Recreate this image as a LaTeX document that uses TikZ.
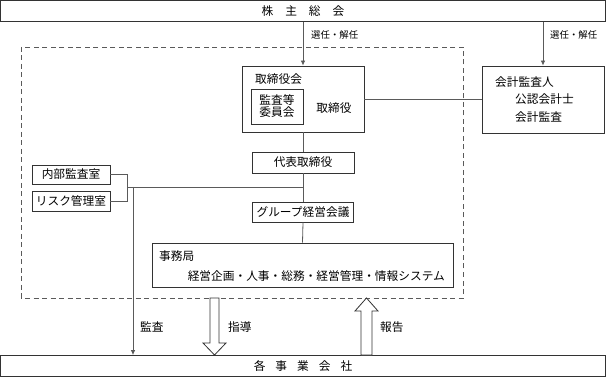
\documentclass[tikz,border=0pt]{standalone}
\usepackage{fontspec}
\setmainfont{Noto Sans CJK JP}
\usetikzlibrary{arrows.meta}
\definecolor{boxline}{HTML}{333333}
\definecolor{conline}{HTML}{5A5A5A}
\tikzset{
  box/.style={draw=boxline, line width=0.8pt, fill=white, inner sep=0pt, font=\fontsize{11.7}{13.5}\selectfont},
  lbl/.style={inner sep=0pt, font=\fontsize{11.7}{13.5}\selectfont},
  small/.style={inner sep=0pt, font=\fontsize{9.4}{11}\selectfont},
  con/.style={draw=conline, line width=0.8pt},
  arr/.style={con, -{Latex[length=5pt,width=4.5pt]}},
  hollow/.style={draw=boxline, line width=0.8pt, fill=white, line join=miter},
  dashbox/.style={draw=conline, line width=0.8pt, dash pattern=on 5pt off 3.5pt}
}
\begin{document}
\begin{tikzpicture}[x=1pt,y=-1pt]
\useasboundingbox (0,0) rectangle (606,377);
% dashed group
\draw[dashbox] (21,47) rectangle (463,298);
% top / bottom bars
\node[box, minimum width=605pt, minimum height=21.5pt] (top) at (303,11) {株\hspace{12pt}主\hspace{12pt}総\hspace{12pt}会};
\node[box, minimum width=605pt, minimum height=21pt] (bot) at (303,366) {各\hspace{10pt}事\hspace{10pt}業\hspace{10pt}会\hspace{10pt}社};
% board
\node[box, minimum width=122pt, minimum height=66pt] (tk) at (303,99) {};
\node[lbl, anchor=west] (tkl) at (255,79) {取締役会};
\node[box, minimum width=52pt, minimum height=35pt, align=center] (kan) at (277,106.5) {監査等\\[-1.5pt]委員会};
\node[lbl] (tky) at (334,108) {取締役};
% auditor
\node[box, minimum width=122pt, minimum height=67pt] (kai) at (543,99.5) {};
\node[lbl, anchor=west] (kai1) at (495,82) {会計監査人};
\node[lbl, anchor=west] (kai2) at (515,99.5) {公認会計士};
\node[lbl, anchor=west] (kai3) at (515,117) {会計監査};
% chain
\node[box, minimum width=102pt, minimum height=21pt] (dai) at (303,162.5) {代表取締役};
\node[box, minimum width=101pt, minimum height=20pt] (grp) at (303,212) {グループ経営会議};
\node[box, minimum width=301pt, minimum height=44pt] (jim) at (302.5,265) {};
\node[lbl, anchor=west] (jim1) at (159,256) {事務局};
\node[lbl, anchor=east] (jim2) at (445,276) {経営企画・人事・総務・経営管理・情報システム};
% side boxes
\node[box, minimum width=78pt, minimum height=19pt] (nai) at (71,174.5) {内部監査室};
\node[box, minimum width=78pt, minimum height=20pt] (ris) at (71,201) {リスク管理室};
% connectors
\draw[arr] (top.south -| tk.north) -- (tk.north);
\draw[arr] (top.south -| kai.north) -- (kai.north);
\node[small, anchor=west] (s1) at (311,35) {選任・解任};
\node[small, anchor=west] (s2) at (550,35) {選任・解任};
\draw[con] (tk.east) -- (kai.west |- tk.east);
\draw[con] (tk.south) -- (dai.north);
\draw[con] (dai.south) -- (grp.north);
\draw[con] (grp.south) -- (jim.north);
\coordinate (jn) at (127,187);
\draw[con] (nai.east) -- (nai.east -| jn) -- (ris.east -| jn) -- (ris.east);
\draw[con] (jn) -- (jn -| dai.south);
\coordinate (ka) at (133,187);
\draw[arr] (ka) -- (ka |- bot.north);
\node[lbl, anchor=west] (kl) at (140,327) {監査};
% hollow arrows
\draw[hollow] (210,298) -- (219,298) -- (219,343) -- (226,343) -- (214.5,355) -- (203,343) -- (210,343) -- cycle;
\node[lbl, anchor=west] (sl) at (228,327) {指導};
\draw[hollow] (361,355) -- (372,355) -- (372,311) -- (378,311) -- (366.5,298) -- (355,311) -- (361,311) -- cycle;
\node[lbl, anchor=west] (hl) at (380,327) {報告};
\end{tikzpicture}
\end{document}
